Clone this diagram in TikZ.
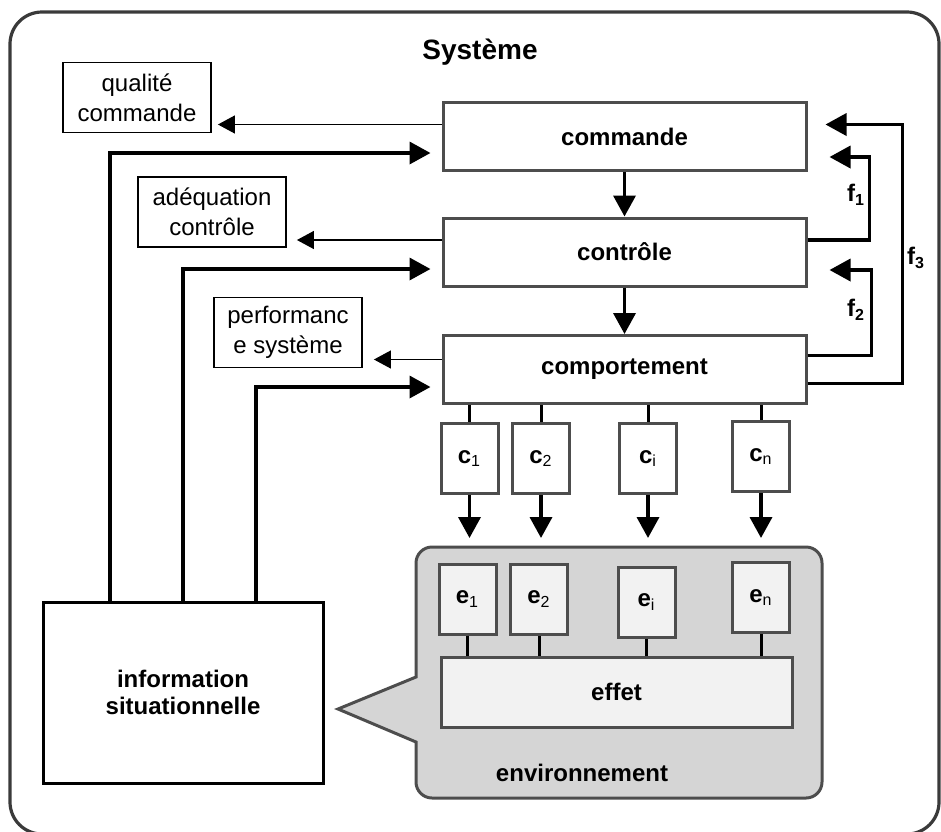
\documentclass[tikz,border=0pt]{standalone}
\usepackage{fontspec}
\setmainfont{Liberation Sans}
\usetikzlibrary{arrows.meta}
\definecolor{boxgray}{HTML}{4D4D4D}
\definecolor{framegray}{HTML}{3A3A3A}
\definecolor{envgray}{HTML}{D5D5D5}
\definecolor{cellgray}{HTML}{F2F2F2}
\newcommand\boxfont{\fontsize{12}{14}\selectfont}
\tikzset{
  level/.style={draw=boxgray, line width=1.5pt, fill=white, minimum width=181.5pt, minimum height=34pt, font=\boxfont\bfseries},
  note/.style={draw=black, line width=0.9pt, minimum width=74pt, minimum height=35pt, align=center, inner sep=1pt, font=\fontsize{12}{15}\selectfont},
  cell/.style={draw=boxgray, line width=1.5pt, fill=white, minimum width=28.5pt, minimum height=35pt, inner sep=0pt, font=\boxfont\bfseries},
  info/.style={draw=black, line width=1.5pt, minimum width=140pt, minimum height=90.5pt, align=center, font=\fontsize{12}{13.5}\selectfont\bfseries},
  thinarr/.style={-{Triangle[length=8.5pt,width=9pt]}, line width=0.6pt},
  thickarr/.style={-{Triangle[length=10.5pt,width=11pt]}, line width=1.8pt},
  link/.style={line width=1.5pt}
}
\begin{document}
\begin{tikzpicture}[x=0.5pt, y=-0.5pt]
\useasboundingbox (0,0) rectangle (941,831);
% cadre du systeme
\begin{scope}
\clip (0,0) rectangle (941,831);
\draw[framegray, line width=1.6pt, rounded corners=16pt] (10,12) rectangle (939,834);
\end{scope}
\node[font=\fontsize{14}{16}\selectfont\bfseries] (systeme) at (480,52) {Système};

% niveaux
\node[level] (commande) at (624.5,136.5) {commande};
\node[level] (controle) at (624.5,252) {contrôle};
\node[level] (comport) at (624.5,369.5) {comportement};

% evaluations
\node[note] (qualite) at (137,97.5) {qualité\\commande};
\node[note] (adequation) at (212,212) {adéquation\\contrôle};
\node[note] (perf) at (288,332.5) {performanc\\e système};

\node[info] (info) at (183,692.5) {information\\situationnelle};

% environnement
\draw[fill=envgray, draw=boxgray, line width=1.5pt] (416,677) [rounded corners=8pt] -- (416,547) -- (822,547) -- (822,798) -- (416,798) [sharp corners] -- (416,742) -- (338,709) -- cycle;
\coordinate (envtop) at (416,547);
\node[font=\boxfont\bfseries] (environnement) at (582,773) {environnement};
\node[level, fill=cellgray, minimum width=175.5pt, minimum height=35pt] (effet) at (616.5,692) {effet};

\foreach \n/\xc/\yc/\xe/\ye in {1/469.5/458.5/467.5/599, 2/541/458.5/539/599, i/648/458.5/646.5/602, n/761/456.5/761/597.5} {
  \node[cell] (c\n) at (\xc,\yc) {c\textsubscript{\mdseries\n}};
  \node[cell, fill=cellgray] (e\n) at (\xe,\ye) {e\textsubscript{\mdseries\n}};
  \draw[link] (comport.south -| c\n.north) -- (c\n.north);
  \draw[thickarr, shorten >=4.5pt] (c\n.south) -- (c\n.south |- envtop);
  \draw[link] (e\n.south) -- (e\n.south |- effet.north);
}

% sorties vers les evaluations
\draw[thinarr] ([yshift=6pt]commande.west) -- ([xshift=3pt,yshift=6pt]commande.west -| qualite.east);
\draw[thinarr] ([yshift=6pt]controle.west) -- ([xshift=5pt,yshift=6pt]controle.west -| adequation.east);
\draw[thinarr] ([yshift=5pt]comport.west) -- ([xshift=5.5pt,yshift=5pt]comport.west -| perf.east);

% information situationnelle
\draw[thickarr, shorten >=5.5pt] ([xshift=-36.5pt]info.north) |- ([yshift=-8.25pt]commande.west);
\draw[thickarr, shorten >=5.5pt] (info.north) |- ([yshift=-8.5pt]controle.west);
\draw[thickarr, shorten >=5.5pt] ([xshift=36.5pt]info.north) |- ([yshift=-8.75pt]comport.west);

% descente
\draw[thickarr] (commande.south) -- (controle.north);
\draw[thickarr] (controle.south) -- (comport.north);

% retours
\draw[thickarr] ([yshift=6pt]controle.east) -- ++(31pt,0) |- ([xshift=11pt,yshift=-10.25pt]commande.east);
\draw[thickarr] ([yshift=7pt]comport.east) -- ++(32pt,0) |- ([xshift=11pt,yshift=-9pt]controle.east);
\draw[thickarr] ([yshift=-7pt]comport.east) -- ++(47.5pt,0) |- ([xshift=9pt,yshift=6pt]commande.east);
\node[font=\boxfont\bfseries] (f1) at (856,195) {f\textsubscript{1}};
\node[font=\boxfont\bfseries] (f2) at (856,310) {f\textsubscript{2}};
\node[font=\boxfont\bfseries] (f3) at (916,258) {f\textsubscript{3}};
\end{tikzpicture}
\end{document}
